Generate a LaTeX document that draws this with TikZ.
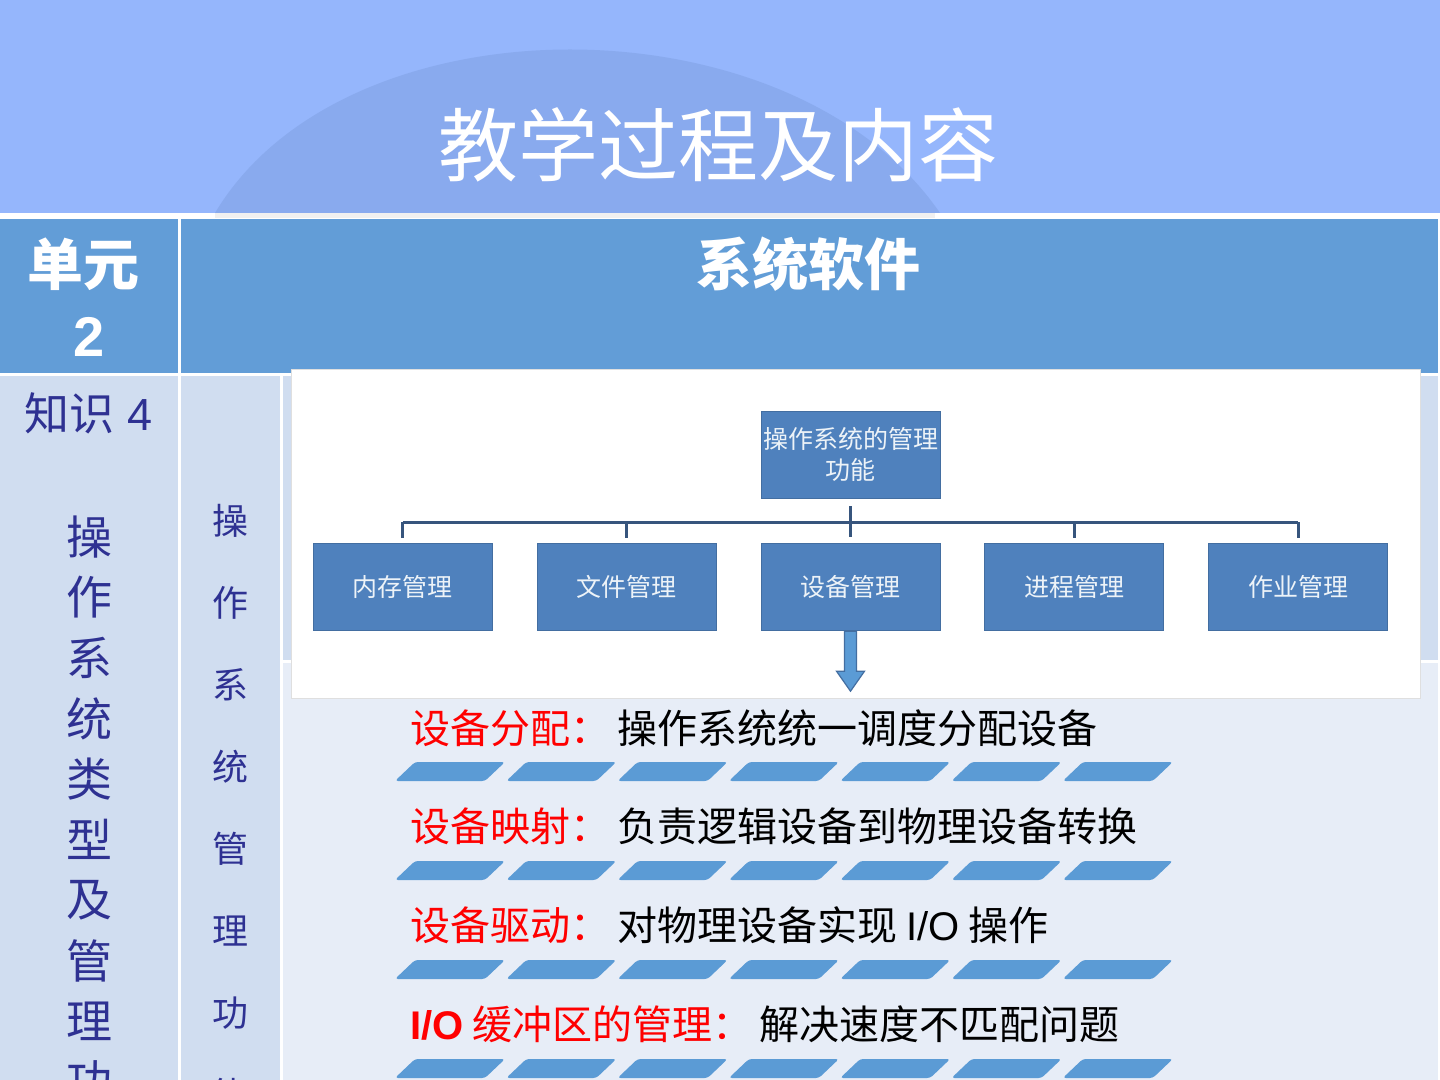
\documentclass[tikz,border=0pt]{standalone}
\usepackage{fontspec}
\setmainfont{Noto Sans CJK SC}
\newfontfamily\latinsans{Liberation Sans}
\usepackage{tikz}
\usetikzlibrary{positioning}
\definecolor{head_color}{RGB}{149,182,252}
\definecolor{arch_color}{RGB}{137,170,238}
\definecolor{row_color}{RGB}{98,157,215}
\definecolor{cell_color}{RGB}{208,221,240}
\definecolor{pale_color}{RGB}{231,237,247}
\definecolor{org_color}{RGB}{79,129,189}
\definecolor{conn_color}{RGB}{55,85,125}
\definecolor{stripe_color}{RGB}{91,155,213}
\definecolor{know_color}{RGB}{46,49,146}

\begin{document}
\begin{tikzpicture}[
    x=0.5pt, y=-0.5pt,
    node distance=22pt,
    orgbox/.style={draw=org_color!85!black, fill=org_color, text=white!90!org_color,
                   minimum width=89.5pt, minimum height=43.5pt, inner sep=0pt,
                   align=center, font=\fontsize{12.5}{15.5}\selectfont},
    conn/.style={draw=conn_color, line width=1.5pt},
    item/.style={anchor=west, inner sep=0pt, font=\fontsize{20}{24}\selectfont},
    vchar/.style={text=know_color, inner sep=0pt},
    stripe/.style={fill=stripe_color, rounded corners=1.5pt}]
    \useasboundingbox (0,0) rectangle (1440,1080);
    \clip (0,0) rectangle (1440,1080);
    % slide background
    \fill[white] (0,0) rectangle (1440,1080);
    \fill[head_color] (0,0) rectangle (1440,213);
    \fill[arch_color] (215,213) .. controls (345,-5) and (790,-5) .. (940,213) -- cycle;
    \fill[gray!12] (215,213) rectangle (935,218);
    \node[text=white, font=\fontsize{40}{44}\selectfont] (title) at (718,145) {教学过程及内容};
    % table
    \fill[row_color] (0,219) rectangle (178,373);
    \fill[row_color] (181,219) rectangle (1438,373);
    \fill[cell_color] (0,376) rectangle (178,1080);
    \fill[cell_color] (181,376) rectangle (280,1080);
    \fill[cell_color] (283,376) rectangle (1438,660);
    \fill[pale_color] (283,663) rectangle (1438,1080);
    \node[text=white, align=center, font=\fontsize{28}{35.5}\selectfont\bfseries]
      (unit) at (83,297) {单元\\\hspace*{6pt}{\latinsans 2}};
    \node[text=white, font=\fontsize{28}{32}\selectfont\bfseries] (topic) at (808,264) {系统软件};
    \node[text=know_color, font=\fontsize{22.5}{24}\selectfont] (know) at (89,413)
      {知识\hspace{6.5pt}{\latinsans 4}};
    \foreach \ch [count=\k from 0] in {操,作,系,统,类,型,及,管,理,功}
      \node[vchar, font=\fontsize{23}{24}\selectfont] (left\k) at (89,537+60.5*\k) {\ch};
    \foreach \ch [count=\k from 0] in {操,作,系,统,管,理,功,能}
      \node[vchar, font=\fontsize{18}{20}\selectfont] (mid\k) at (230,521+82*\k) {\ch};
    % chart picture
    \draw[gray!25, fill=white] (291,369) rectangle (1420,698);
    \node[orgbox] (top) at (850.5,454.5) {操作系统的管理\\功能};
    \node[orgbox, below=22.5pt of top] (dev) {设备管理};
    \node[orgbox, left=of dev] (fs) {文件管理};
    \node[orgbox, left=of fs] (mem) {内存管理};
    \node[orgbox, right=of dev] (proc) {进程管理};
    \node[orgbox, right=of proc] (job) {作业管理};
    \coordinate (bar) at (850.5,522);
    \draw[conn] ([yshift=-4pt]top.south) -- ([yshift=3pt]dev.north);
    \draw[conn] (mem.north |- bar) -- (job.north |- bar);
    \foreach \n in {mem,fs,proc,job}
      \draw[conn] (\n.north |- bar) -- ([yshift=2.5pt]\n.north);
    \draw[fill=stripe_color, draw=org_color!85!black, line width=0.6pt]
      (dev.south) ++(-6,0) -- ++(0,40) -- ++(-8,0) -- ++(14,20) -- ++(14,-20)
      -- ++(-8,0) -- ++(0,-40) -- cycle;
    % device management items
    \node[item] (alloc) at (410,728)
      {{\color{red}设备分配：}\hspace{3.5pt}操作系统统一调度分配设备};
    \node[item] (map) at (410,826)
      {{\color{red}设备映射：}\hspace{3.5pt}负责逻辑设备到物理设备转换};
    \node[item] (drv) at (410,925)
      {{\color{red}设备驱动：}\hspace{3.5pt}对物理设备实现 {\latinsans I/O} 操作};
    \node[item] (buf) at (410,1024)
      {{\color{red}{\latinsans\bfseries I/O} 缓冲区的管理：}\hspace{3.5pt}解决速度不匹配问题};
    \foreach \r in {0,...,3}
      \foreach \i in {0,...,6}
        \fill[stripe] (395+111.3*\i,781+99*\r) -- ++(90,0) -- ++(20,-19)
          -- ++(-90,0) -- cycle;
\end{tikzpicture}
\end{document}
